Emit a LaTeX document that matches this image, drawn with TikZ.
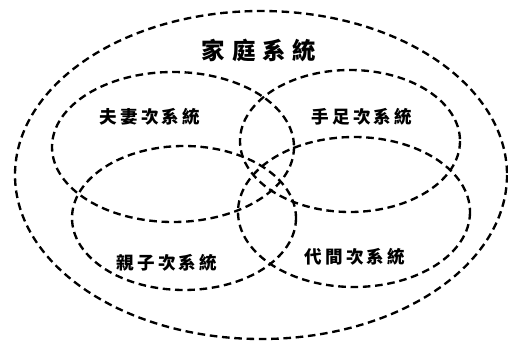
\documentclass[tikz,border=0pt]{standalone}
\usepackage{fontspec}
\usepackage{tikz}
\newfontfamily\cjktitle[LetterSpace=30]{Noto Sans CJK TC}
\newfontfamily\cjk[LetterSpace=18]{Noto Sans CJK TC}
\begin{document}
\begin{tikzpicture}[
    x=0.03cm,y=-0.03cm,
    dashline/.style={draw,line width=2pt,dash pattern=on 6.5pt off 4pt},
    biglabel/.style={font=\cjktitle\bfseries\fontsize{20}{24}\selectfont},
    sublabel/.style={font=\cjk\bfseries\fontsize{15}{18}\selectfont}
]
\useasboundingbox (0,0) rectangle (508,341);
% outer family system
\draw[dashline] (261,175) ellipse [x radius=246,y radius=164];
% four subsystems
\draw[dashline] (173,147) ellipse [x radius=121,y radius=75];
\draw[dashline] (350,141) ellipse [x radius=110,y radius=71];
\draw[dashline] (184,218) ellipse [x radius=112,y radius=72];
\draw[dashline] (354,212) ellipse [x radius=116,y radius=75];
\node[biglabel] (family) at (259,50) {家庭系統};
\node[sublabel] (couple) at (150,117) {夫妻次系統};
\node[sublabel] (sibling) at (362,117) {手足次系統};
\node[sublabel] (parent) at (167,263) {親子次系統};
\node[sublabel] (generation) at (355,257) {代間次系統};
\end{tikzpicture}
\end{document}
